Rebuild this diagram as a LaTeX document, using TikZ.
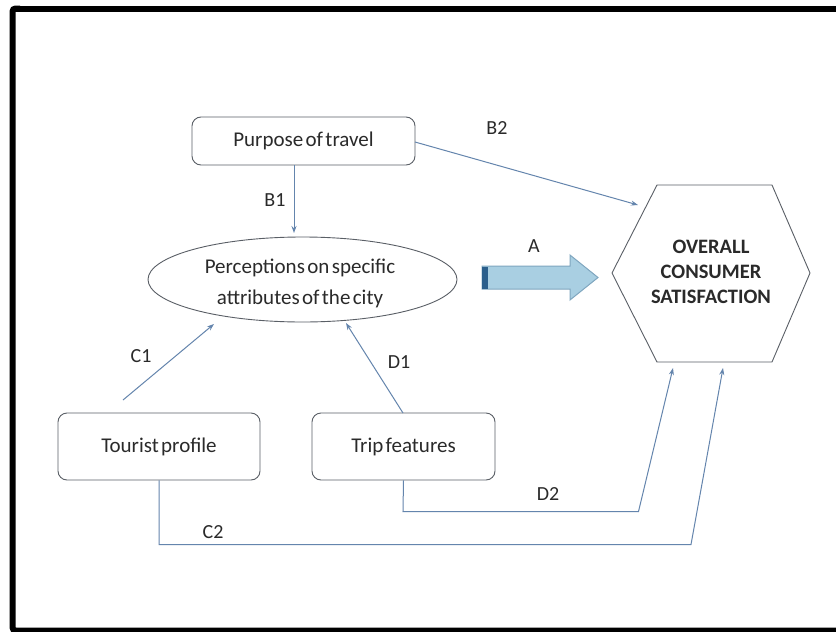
\documentclass[tikz,border=0pt]{standalone}
\usepackage{fontspec}
\setmainfont[WordSpace=0.5]{Carlito}
\usetikzlibrary{arrows.meta,shapes.geometric}
\definecolor{lineblue}{HTML}{6485AD}
\definecolor{boxgray}{HTML}{5A5F66}
\definecolor{arrowfill}{HTML}{A9CFE2}
\definecolor{arrowedge}{HTML}{7FA6BF}
\definecolor{arrowdark}{HTML}{2B5F8C}
\definecolor{txt}{HTML}{2A2A2A}
\begin{document}
\begin{tikzpicture}[x=1pt,y=-1pt,
  every node/.style={text=txt,font=\fontsize{21}{26}\selectfont},
  roundbox/.style={draw=boxgray,line width=0.9pt,rounded corners=9pt,align=center,inner sep=0pt},
  conn/.style={draw=lineblue,line width=1pt,-{Stealth[length=7pt,width=5pt]}},
  lbl/.style={font=\fontsize{20}{24}\selectfont}]
\useasboundingbox (0,0) rectangle (836,632);
\fill[white] (0,0) rectangle (836,632);
\begin{scope}
\clip (0,0) rectangle (836,632);
\draw[line width=6pt,rounded corners=3pt] (12.5,8.5) -- (850,8.5);
\draw[line width=6pt,rounded corners=3pt] (850,630.5) -- (12.5,630.5) -- (12.5,8.5) -- (20,8.5);
\end{scope}

% boxes
\node[roundbox,minimum width=223pt,minimum height=48pt] (purpose) at (303.5,141) {Purpose of travel};
\node[draw=boxgray,line width=0.9pt,ellipse,minimum width=309pt,minimum height=85pt,inner sep=0pt] (perc) at (302.5,279.5) {};
\node[align=center,font=\fontsize{21}{31}\selectfont] (perctext) at (300,283) {Perceptions on specific\\attributes of the city};
\node[roundbox,minimum width=202pt,minimum height=67pt] (tourist) at (159,446.5) {Tourist profile};
\node[roundbox,minimum width=183pt,minimum height=67pt] (trip) at (403.5,446.5) {Trip features};

% hexagon
\coordinate (h1) at (657,185);
\coordinate (h2) at (772,185);
\coordinate (h3) at (810,273);
\coordinate (h4) at (772,362);
\coordinate (h5) at (657,362);
\coordinate (h6) at (612,273);
\draw[draw=boxgray,line width=0.9pt] (h1) -- (h2) -- (h3) -- (h4) -- (h5) -- (h6) -- cycle;
\node[align=center,font=\bfseries\fontsize{20.5}{25}\selectfont] (sat) at (711,272) {OVERALL\\CONSUMER\\SATISFACTION};

% block arrow A
\coordinate (a1) at (482,266);
\coordinate (a2) at (570,266);
\coordinate (a3) at (570,255);
\coordinate (a4) at (598,277.5);
\coordinate (a5) at (570,300);
\coordinate (a6) at (570,289);
\coordinate (a7) at (482,289);
\draw[fill=arrowfill,draw=arrowedge,line width=1pt] (a1) -- (a2) -- (a3) -- (a4) -- (a5) -- (a6) -- (a7) -- cycle;
\fill[arrowdark] (482,266.5) rectangle (488,288.5);
\node[lbl] (la) at (534,246) {A};

% connectors
\coordinate (b1s) at (294,165);
\coordinate (b1e) at (294,233);
\draw[conn] (b1s) -- (b1e);
\node[lbl] (lb1) at (275,200) {B1};

\coordinate (b2s) at (415,142);
\coordinate (b2e) at (638,205);
\draw[conn] (b2s) -- (b2e);
\node[lbl] (lb2) at (497,128) {B2};

\coordinate (c1s) at (123,400);
\coordinate (c1e) at (214,324);
\draw[conn] (c1s) -- (c1e);
\node[lbl] (lc1) at (141,356) {C1};

\coordinate (d1s) at (403,413);
\coordinate (d1e) at (346,323);
\draw[conn] (d1s) -- (d1e);
\node[lbl] (ld1) at (399,362) {D1};

\coordinate (d2a) at (403,511.5);
\coordinate (d2b) at (638.5,511.5);
\coordinate (d2e) at (673,368);
\draw[conn] (trip.south) -- (d2a) -- (d2b) -- (d2e);
\node[lbl] (ld2) at (548,494) {D2};

\coordinate (c2a) at (159,544.5);
\coordinate (c2b) at (691,544.5);
\coordinate (c2e) at (723,368);
\draw[conn] (tourist.south) -- (c2a) -- (c2b) -- (c2e);
\node[lbl] (lc2) at (213,532) {C2};
\end{tikzpicture}
\end{document}
